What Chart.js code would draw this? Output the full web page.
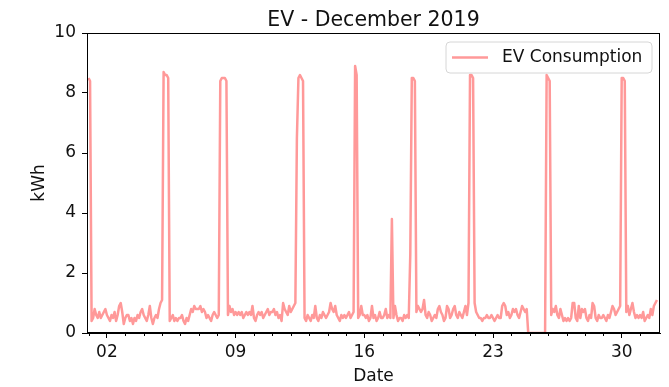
<!DOCTYPE html>
<html><head><meta charset="utf-8">
<script src="https://cdn.jsdelivr.net/npm/chart.js@4.4.1/dist/chart.umd.min.js"></script>
<style>html,body{margin:0;padding:0;background:#fff;}#wrap{width:669px;height:387px;}</style>
</head><body><div id="wrap"><canvas id="c" width="669" height="387"></canvas></div>
<script>
const chartTitle = 'EV - December 2019';
const seriesLabel = 'EV Consumption';
const xAxisLabel = 'Date';
const yAxisLabel = 'kWh';
const stepHours = 2; // one reading every 2 hours, starting 1 Dec 00:00

// values, kWh, 12 readings per day
const week1 = [ // Dec 1 - Dec 7
  8.5,8.4,0.4,0.5,0.8,0.6,0.5,0.7,0.5,0.6,0.7,0.8,
  0.6,0.5,0.4,0.6,0.5,0.7,0.4,0.6,0.9,1.0,0.7,0.3,
  0.5,0.6,0.6,0.4,0.5,0.3,0.5,0.4,0.6,0.5,0.7,0.8,
  0.6,0.5,0.4,0.6,0.9,0.5,0.3,0.5,0.6,0.5,0.8,1.0,
  1.1,8.7,8.6,8.6,8.5,0.4,0.5,0.6,0.4,0.5,0.4,0.5,
  0.5,0.6,0.4,0.3,0.5,0.4,0.6,0.8,0.7,0.9,0.8,0.8,
  0.8,0.9,0.7,0.8,0.7,0.5,0.6,0.5,0.4,0.6,0.7,0.6
];
const week2 = [ // Dec 8 - Dec 14
  0.5,0.6,8.4,8.5,8.5,8.5,8.4,0.6,0.9,0.7,0.8,0.6,
  0.7,0.6,0.7,0.6,0.7,0.5,0.6,0.7,0.6,0.7,0.6,0.9,
  0.5,0.4,0.6,0.7,0.6,0.7,0.5,0.6,0.7,0.8,0.6,0.7,
  0.7,0.8,0.6,0.7,0.5,0.6,0.4,1.0,0.8,0.7,0.6,0.9,
  0.7,0.8,0.9,1.0,6.5,8.5,8.6,8.5,8.4,0.5,0.4,0.6,
  0.5,0.4,0.6,0.5,0.9,0.5,0.4,0.6,0.5,0.7,0.6,0.5,
  0.6,0.7,1.0,0.8,0.7,0.9,0.6,0.5,0.4,0.6,0.5,0.6
];
const week3 = [ // Dec 15 - Dec 21
  0.5,0.6,0.7,0.5,0.6,0.7,8.9,8.6,0.5,0.6,0.9,0.6,
  0.6,0.5,0.6,0.4,0.5,0.9,0.5,0.6,0.4,0.5,0.7,0.5,
  0.5,0.6,0.8,0.5,0.6,0.5,3.8,0.5,0.9,0.6,0.4,0.5,
  0.5,0.4,0.6,0.5,0.6,0.5,2.6,8.5,8.5,8.4,0.7,0.9,
  0.8,0.7,0.8,1.1,0.6,0.5,0.7,0.6,0.4,0.5,0.6,0.5,
  0.8,0.9,0.7,0.6,0.4,0.5,0.9,0.8,0.5,0.6,0.8,0.9,
  0.6,0.5,0.7,0.6,0.5,0.7,0.9,0.6,1.0,8.6,8.6,8.5
];
const week4 = [ // Dec 22 - Dec 28
  1.0,0.7,0.6,0.5,0.5,0.4,0.5,0.5,0.6,0.5,0.5,0.6,
  0.5,0.4,0.5,0.6,0.5,0.5,0.9,1.0,0.9,0.6,0.7,0.5,
  0.6,0.8,0.7,0.8,0.6,0.5,0.7,0.9,0.8,0.7,0.8,0.0,
  0.0,0.0,0.0,0.0,0.0,0.0,0.0,0.0,0.0,0.0,0.0,8.6,
  8.5,8.4,0.6,0.8,0.7,0.9,0.6,0.5,0.8,0.6,0.4,0.5,
  0.4,0.5,0.4,0.5,1.0,1.0,0.5,0.4,0.9,0.5,0.8,0.7,
  0.8,0.5,0.4,0.6,0.5,1.0,0.9,0.5,0.4,0.6,0.5,0.5
];
const week5 = [ // Dec 29 - Dec 31
  0.6,0.5,0.4,0.6,0.5,0.7,0.9,0.8,0.6,0.7,0.8,0.9,
  8.5,8.5,8.4,0.7,0.9,0.6,0.8,1.0,0.7,0.5,0.6,0.5,
  0.6,0.5,0.7,0.4,0.5,0.6,0.5,0.8,0.6,0.9,1.0,1.1
];

const dayTicks = Array.from({length:31}, (_, i) => i + 1);
const majorDays = [2, 9, 16, 23, 30];
const majorLabels = ['02', '09', '16', '23', '30'];
const yTickValues = [0, 2, 4, 6, 8, 10];

const lineColor = '#ff9999';
const FONT = 'DejaVu Sans, Liberation Sans, sans-serif';

const allValues = [].concat(week1, week2, week3, week4, week5);
const points = allValues.map((v, i) => ({x: i * stepHours, y: v}));

const decor = {
  id: 'decor',
  afterDraw(chart) {
    const {ctx, chartArea: a, scales} = chart;
    ctx.save();
    ctx.strokeStyle = '#000'; ctx.lineWidth = 1;
    ctx.strokeRect(Math.round(a.left) + 0.5, Math.round(a.top) + 0.5, Math.round(a.right - a.left) - 1, Math.round(a.bottom - a.top) - 1);
    ctx.beginPath();
    dayTicks.forEach(d => {
      if (majorDays.includes(d)) return;
      const px = Math.round(scales.x.getPixelForValue((d - 1) * 24)) + 0.5;
      ctx.moveTo(px, a.bottom); ctx.lineTo(px, a.bottom + 3);
    });
    ctx.stroke();
    ctx.fillStyle = '#111';
    ctx.textAlign = 'center'; ctx.textBaseline = 'alphabetic';
    ctx.font = '20.5px ' + FONT;
    ctx.fillText(chartTitle, (a.left + a.right) / 2, 26);
    ctx.font = '17px ' + FONT;
    ctx.fillText(xAxisLabel, (a.left + a.right) / 2, 381);
    ctx.save();
    ctx.translate(44, (a.top + a.bottom) / 2);
    ctx.rotate(-Math.PI / 2);
    ctx.fillText(yAxisLabel, 0, 0);
    ctx.restore();
    const lx = 446, ly = 42, lw = 206, lh = 31, r = 4;
    ctx.beginPath();
    ctx.moveTo(lx + r, ly); ctx.lineTo(lx + lw - r, ly); ctx.arcTo(lx + lw, ly, lx + lw, ly + r, r);
    ctx.lineTo(lx + lw, ly + lh - r); ctx.arcTo(lx + lw, ly + lh, lx + lw - r, ly + lh, r);
    ctx.lineTo(lx + r, ly + lh); ctx.arcTo(lx, ly + lh, lx, ly + lh - r, r);
    ctx.lineTo(lx, ly + r); ctx.arcTo(lx, ly, lx + r, ly, r); ctx.closePath();
    ctx.fillStyle = 'rgba(255,255,255,0.85)'; ctx.fill();
    ctx.strokeStyle = '#d6d6d6'; ctx.lineWidth = 1; ctx.stroke();
    ctx.beginPath(); ctx.strokeStyle = lineColor; ctx.lineWidth = 2.5;
    ctx.moveTo(452, 57.5); ctx.lineTo(488, 57.5); ctx.stroke();
    ctx.fillStyle = '#111'; ctx.textAlign = 'left'; ctx.textBaseline = 'middle';
    ctx.font = '17px ' + FONT;
    ctx.fillText(chart.data.datasets[0].label, 502, 57.5);
    ctx.restore();
  }
};

new Chart(document.getElementById('c'), {
  type: 'line',
  data: {datasets: [{label: seriesLabel, data: points, borderColor: lineColor, borderWidth: 2.5,
    pointRadius: 0, tension: 0, fill: false, borderJoinStyle: 'round'}]},
  options: {
    responsive: false, animation: false, devicePixelRatio: 1,
    layout: {padding: {top: 33, right: 9, left: 0, bottom: 0}},
    plugins: {legend: {display: false}, title: {display: false}, tooltip: {enabled: false}},
    scales: {
      x: {type: 'linear', min: -2, max: 746,
        afterFit(s) { s.height = 54; },
        afterBuildTicks(s) { s.ticks = dayTicks.map(d => ({value: (d - 1) * 24})); },
        ticks: {autoSkip: false, maxRotation: 0, minRotation: 0, padding: 4, color: '#111',
          font: {family: FONT, size: 17},
          callback(v) { const i = majorDays.indexOf(Math.round(v / 24) + 1); return i >= 0 ? majorLabels[i] : ''; }},
        grid: {display: true, drawOnChartArea: false, drawTicks: true, tickLength: 5,
          tickColor: c => (c.tick && majorDays.includes(Math.round(c.tick.value / 24) + 1)) ? '#000' : 'rgba(0,0,0,0)'},
        border: {display: true, color: '#000', width: 1}
      },
      y: {type: 'linear', min: 0, max: 10,
        afterFit(s) { s.width = 87; },
        afterBuildTicks(s) { s.ticks = yTickValues.map(v => ({value: v})); },
        ticks: {padding: 6, color: '#111', font: {family: FONT, size: 17}},
        grid: {display: true, drawOnChartArea: false, drawTicks: true, tickLength: 5, tickColor: '#000'},
        border: {display: true, color: '#000', width: 1}
      }
    }
  },
  plugins: [decor]
});
</script></body></html>
